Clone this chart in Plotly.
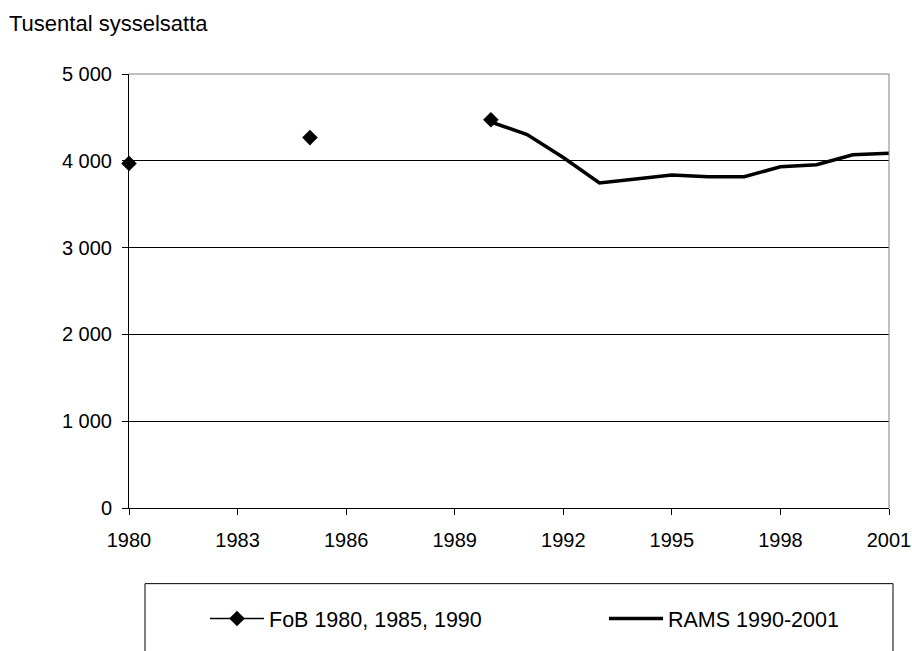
import plotly.graph_objects as go

fob_years = [1980, 1985, 1990]
fob_values = [3970, 4267, 4473]

rams_years = [1990, 1991, 1992, 1993, 1994, 1995, 1996, 1997, 1998, 1999, 2000, 2001]
rams_values = [4447, 4302, 4038, 3744, 3790, 3836, 3817, 3817, 3931, 3954, 4069, 4088]

x_tick_vals = [1980, 1983, 1986, 1989, 1992, 1995, 1998, 2001]
y_tick_vals = [0, 1000, 2000, 3000, 4000, 5000]
y_tick_text = ["0", "1 000", "2 000", "3 000", "4 000", "5 000"]

FONT = "Liberation Sans, Arial, sans-serif"
L, R, T, B = 129, 889, 74, 510
PW, PH = R - L, B - T

def px(xp):
    return (xp - L) / PW

def py(yp):
    return (B - yp) / PH

fig = go.Figure()

fig.add_trace(go.Scatter(
    x=fob_years, y=fob_values, mode="markers",
    marker=dict(symbol="diamond", size=12, color="black"),
    showlegend=False, cliponaxis=False,
))
fig.add_trace(go.Scatter(
    x=[None], y=[None], mode="lines+markers", name="FoB 1980, 1985, 1990",
    marker=dict(symbol="diamond", size=12, color="black"),
    line=dict(color="black", width=1.5), legend="legend",
))
fig.add_trace(go.Scatter(
    x=rams_years, y=rams_values, mode="lines", name="RAMS 1990-2001",
    line=dict(color="black", width=3.5),
    cliponaxis=False, legend="legend2",
))

legend_common = dict(
    orientation="h", xanchor="left", yanchor="middle",
    bgcolor="rgba(0,0,0,0)", borderwidth=0, itemwidth=54,
    font=dict(size=21.5),
)

fig.update_layout(
    width=912, height=651,
    margin=dict(l=L, r=912 - R, t=T, b=651 - B),
    paper_bgcolor="white", plot_bgcolor="white",
    font=dict(family=FONT, size=20, color="black"),
    xaxis=dict(
        range=[1980, 2001], tickvals=x_tick_vals, showgrid=False,
        showline=True, linecolor="black", linewidth=1,
        ticks="outside", ticklen=6, tickcolor="black",
        zeroline=False, tickfont=dict(size=20), ticklabelstandoff=8,
        automargin=False,
    ),
    yaxis=dict(
        range=[0, 5000], tickvals=y_tick_vals, ticktext=y_tick_text,
        showgrid=True, gridcolor="black", gridwidth=1,
        showline=True, linecolor="black", linewidth=1,
        ticks="outside", ticklen=6, tickcolor="black",
        zeroline=False, tickfont=dict(size=20), ticklabelstandoff=6,
        automargin=False,
    ),
    showlegend=True,
    legend=dict(x=px(205), y=py(621), **legend_common),
    legend2=dict(x=px(604), y=py(621), **legend_common),
    shapes=[
        dict(type="line", xref="paper", yref="paper", x0=0, x1=1, y0=1, y1=1,
             line=dict(color="#808080", width=1), layer="above"),
        dict(type="line", xref="paper", yref="paper", x0=1, x1=1, y0=0, y1=1,
             line=dict(color="#808080", width=1), layer="above"),
        dict(type="rect", xref="paper", yref="paper",
             x0=px(145), x1=px(893), y0=py(586), y1=py(680),
             line=dict(color="black", width=1), fillcolor="rgba(0,0,0,0)"),
    ],
    annotations=[
        dict(text="Tusental sysselsatta", xref="paper", yref="paper",
             x=px(7), y=py(23), xanchor="left", yanchor="middle",
             showarrow=False, font=dict(size=22)),
    ],
)

fig.write_html("out.html", config={"displayModeBar": False},
               post_script="document.body.style.margin='0';")
